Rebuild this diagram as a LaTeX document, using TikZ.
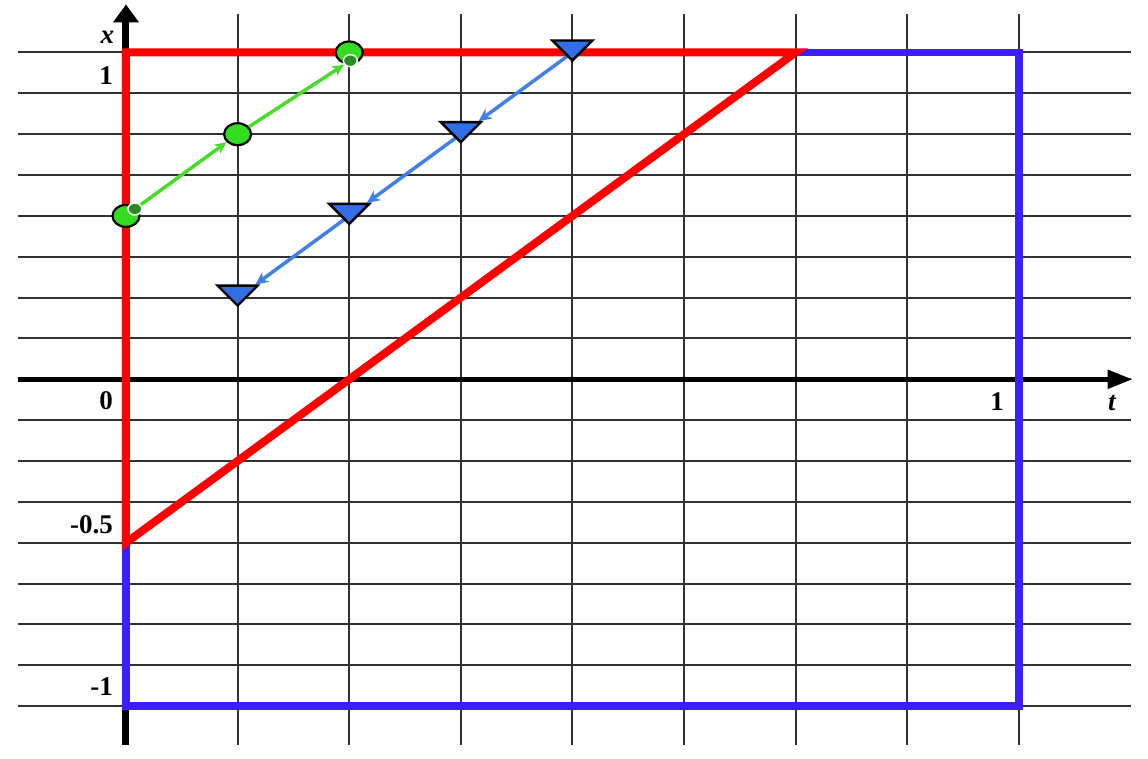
\documentclass[tikz,border=0pt]{standalone}
\usepackage{fontspec}
\setmainfont{Liberation Serif}
\usetikzlibrary{arrows.meta,shapes.geometric}
\definecolor{gridc}{RGB}{50,50,50}
\definecolor{redc}{RGB}{255,0,0}
\definecolor{boxblue}{RGB}{60,30,255}
\definecolor{arrblue}{RGB}{64,128,232}
\definecolor{tristart}{RGB}{50,110,230}
\definecolor{gfill}{RGB}{50,220,30}
\definecolor{gdark}{RGB}{40,140,30}
\definecolor{garr}{RGB}{70,220,40}
\tikzset{
  gridline/.style={gridc, line width=2pt},
  axisy/.style={black, line width=7pt, -{Triangle[length=18pt,width=25pt]}},
  axist/.style={black, line width=5pt, -{Triangle[length=25pt,width=18pt]}},
  redbox/.style={redc, line width=8pt, line join=miter},
  bluebox/.style={boxblue, line width=7.5pt, line join=miter},
  gcirc/.style={ellipse, draw=black, line width=2.2pt, fill=gfill, minimum width=27pt, minimum height=22pt, inner sep=0pt},
  gdot/.style={ellipse, draw=white, line width=1.5pt, fill=gdark, minimum width=14pt, minimum height=12pt, inner sep=0pt},
  garrow/.style={garr, line width=3.5pt, -{Stealth[length=12pt,width=11pt]}},
  barrow/.style={arrblue, line width=3.5pt, -{Stealth[length=13pt,width=12pt]}, shorten <=6pt, shorten >=22pt},
  lbl/.style={font=\bfseries\fontsize{27}{27}\selectfont, inner sep=0pt},
  tri/.pic={\filldraw[fill=tristart, draw=black, line width=2.4pt, line join=miter] (-20pt,12pt) -- (20pt,12pt) -- (0pt,-8pt) -- cycle;}
}
\begin{document}
\begin{tikzpicture}[x=111.6pt,y=-40.85pt]
\useasboundingbox[fill=white] (-126pt,52.5pt) rectangle (1022pt,-706.5pt);
% grid
\foreach \r in {0,...,16} \draw[gridline] (-0.968,\r) -- (9.005,\r);
\foreach \c in {1,...,8} \draw[gridline] (\c,-0.943) -- (\c,16.95);
% axes
\coordinate (ybot) at (0,16.95);
\coordinate (ytop) at (0,-1.175);
\coordinate (tleft) at (-0.968,8);
\coordinate (tright) at (9.02,8);
\draw[axisy] (ybot) -- (ytop);
\draw[axist] (tleft) -- (tright);
% region
\coordinate (A) at (0,0);
\coordinate (B) at (6,0);
\coordinate (C) at (8,0);
\coordinate (D) at (8,16);
\coordinate (E) at (0,16);
\coordinate (F) at (0,12);
\draw[bluebox] (F) -- (E) -- (D) -- (C) -- (B);
\draw[redbox] (B) -- (A) -- (F) -- cycle;
% blue characteristics
\coordinate (b0) at (4,0);
\coordinate (b1) at (3,2);
\coordinate (b2) at (2,4);
\coordinate (b3) at (1,6);
\draw[barrow] (b0) -- (b1);
\draw[barrow] (b1) -- (b2);
\draw[barrow] (b2) -- (b3);
\pic at (b0) {tri};
\pic at (b1) {tri};
\pic at (b2) {tri};
\pic at (b3) {tri};
% green characteristics
\node[gcirc] (g0) at (0,4) {};
\node[gcirc] (g1) at (1,2) {};
\node[gcirc] (g2) at (2,0) {};
\node[gdot] (d0) at (0.08,3.83) {};
\node[gdot] (d2) at (2.01,0.2) {};
\draw[garrow] (d0) -- (g1);
\draw[garrow] (g1) -- (d2);
% labels
\node[lbl, anchor=east] (lx) at (-0.105,-0.379) {\itshape x};
\node[lbl, anchor=east] (l1) at (-0.1165,0.575) {1};
\node[lbl, anchor=east] (l0) at (-0.1165,8.53) {0};
\node[lbl, anchor=east] (lh) at (-0.1165,11.57) {-0.5};
\node[lbl, anchor=east] (lm) at (-0.1165,15.51) {-1};
\node[lbl] (lt1) at (7.805,8.557) {1};
\node[lbl] (lt) at (8.835,8.58) {\itshape t};
\end{tikzpicture}
\end{document}
